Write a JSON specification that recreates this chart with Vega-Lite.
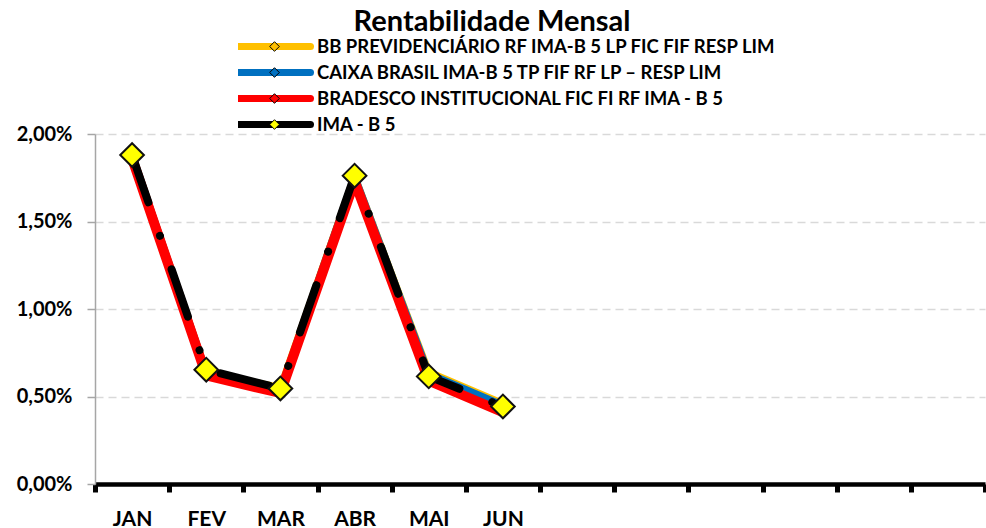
{
  "$schema": "https://vega.github.io/schema/vega-lite/v6.json",
  "width": 890,
  "height": 350,
  "autosize": "none",
  "padding": {"left": 95, "top": 134, "right": 1, "bottom": 44},
  "background": "white",
  "config": {"view": {"stroke": null}, "font": "Lato"},
  "title": {"text": "Rentabilidade Mensal", "font": "Lato", "fontSize": 29, "fontWeight": "bold", "color": "#000000", "anchor": "middle", "dx": -48, "offset": -3},
  "data": {"values": [
    {"mes": "JAN", "serie": "BB PREVIDENCIÁRIO RF IMA-B 5 LP FIC FIF RESP LIM", "codigo": "bb", "valor": 0.0188},
    {"mes": "FEV", "serie": "BB PREVIDENCIÁRIO RF IMA-B 5 LP FIC FIF RESP LIM", "codigo": "bb", "valor": 0.0064},
    {"mes": "MAR", "serie": "BB PREVIDENCIÁRIO RF IMA-B 5 LP FIC FIF RESP LIM", "codigo": "bb", "valor": 0.0055},
    {"mes": "ABR", "serie": "BB PREVIDENCIÁRIO RF IMA-B 5 LP FIC FIF RESP LIM", "codigo": "bb", "valor": 0.0176},
    {"mes": "MAI", "serie": "BB PREVIDENCIÁRIO RF IMA-B 5 LP FIC FIF RESP LIM", "codigo": "bb", "valor": 0.0064},
    {"mes": "JUN", "serie": "BB PREVIDENCIÁRIO RF IMA-B 5 LP FIC FIF RESP LIM", "codigo": "bb", "valor": 0.0046},
    {"mes": "JAN", "serie": "CAIXA BRASIL IMA-B 5 TP FIF RF LP – RESP LIM", "codigo": "caixa", "valor": 0.0188},
    {"mes": "FEV", "serie": "CAIXA BRASIL IMA-B 5 TP FIF RF LP – RESP LIM", "codigo": "caixa", "valor": 0.0064},
    {"mes": "MAR", "serie": "CAIXA BRASIL IMA-B 5 TP FIF RF LP – RESP LIM", "codigo": "caixa", "valor": 0.0054},
    {"mes": "ABR", "serie": "CAIXA BRASIL IMA-B 5 TP FIF RF LP – RESP LIM", "codigo": "caixa", "valor": 0.0176},
    {"mes": "MAI", "serie": "CAIXA BRASIL IMA-B 5 TP FIF RF LP – RESP LIM", "codigo": "caixa", "valor": 0.0063},
    {"mes": "JUN", "serie": "CAIXA BRASIL IMA-B 5 TP FIF RF LP – RESP LIM", "codigo": "caixa", "valor": 0.0045},
    {"mes": "JAN", "serie": "BRADESCO INSTITUCIONAL FIC FI RF IMA - B 5", "codigo": "bradesco", "valor": 0.0186},
    {"mes": "FEV", "serie": "BRADESCO INSTITUCIONAL FIC FI RF IMA - B 5", "codigo": "bradesco", "valor": 0.0062},
    {"mes": "MAR", "serie": "BRADESCO INSTITUCIONAL FIC FI RF IMA - B 5", "codigo": "bradesco", "valor": 0.0052},
    {"mes": "ABR", "serie": "BRADESCO INSTITUCIONAL FIC FI RF IMA - B 5", "codigo": "bradesco", "valor": 0.0173},
    {"mes": "MAI", "serie": "BRADESCO INSTITUCIONAL FIC FI RF IMA - B 5", "codigo": "bradesco", "valor": 0.0059},
    {"mes": "JUN", "serie": "BRADESCO INSTITUCIONAL FIC FI RF IMA - B 5", "codigo": "bradesco", "valor": 0.0041},
    {"mes": "JAN", "serie": "IMA - B 5", "codigo": "ima", "valor": 0.0188},
    {"mes": "FEV", "serie": "IMA - B 5", "codigo": "ima", "valor": 0.00653},
    {"mes": "MAR", "serie": "IMA - B 5", "codigo": "ima", "valor": 0.00546},
    {"mes": "ABR", "serie": "IMA - B 5", "codigo": "ima", "valor": 0.01762},
    {"mes": "MAI", "serie": "IMA - B 5", "codigo": "ima", "valor": 0.00615},
    {"mes": "JUN", "serie": "IMA - B 5", "codigo": "ima", "valor": 0.00443}
  ]},
  "encoding": {
    "x": {
      "field": "mes", "type": "ordinal",
      "scale": {"type": "band", "domain": ["JAN", "FEV", "MAR", "ABR", "MAI", "JUN", "JUL", "AGO", "SET", "OUT", "NOV", "DEZ"], "paddingInner": 0, "paddingOuter": 0},
      "axis": {
        "title": null, "grid": false, "labelAngle": 0, "tickBand": "extent",
        "labelExpr": "indexof(['JAN','FEV','MAR','ABR','MAI','JUN'], datum.value) >= 0 ? datum.value : ''",
        "domainColor": "#000000", "domainWidth": 4.5,
        "tickColor": "#000000", "tickWidth": 5, "tickSize": 8,
        "labelFont": "Lato", "labelFontSize": 21, "labelFontWeight": "bold", "labelColor": "#000000", "labelPadding": 16
      }
    },
    "y": {
      "field": "valor", "type": "quantitative",
      "scale": {"domain": [0, 0.02], "nice": false, "zero": true},
      "axis": {
        "title": null, "values": [0, 0.005, 0.01, 0.015, 0.02],
        "labelExpr": "replace(format(datum.value, '.2%'), '.', ',')",
        "grid": true, "gridColor": "#D9D9D9", "gridDash": [8, 5], "gridWidth": 1.5,
        "domainColor": "#A6A6A6", "domainWidth": 1.5,
        "tickColor": "#A6A6A6", "tickWidth": 1.5, "tickSize": 8,
        "labelFont": "Lato", "labelFontSize": 20, "labelFontWeight": "bold", "labelColor": "#000000", "labelPadding": 15
      }
    },
    "stroke": {
      "field": "serie", "type": "nominal",
      "scale": {
        "domain": ["BB PREVIDENCIÁRIO RF IMA-B 5 LP FIC FIF RESP LIM", "CAIXA BRASIL IMA-B 5 TP FIF RF LP – RESP LIM", "BRADESCO INSTITUCIONAL FIC FI RF IMA - B 5", "IMA - B 5"],
        "range": ["#FFC000", "#0070C0", "#FF0000", "#000000"]
      },
      "legend": {
        "orient": "none", "legendX": 143, "legendY": -100, "title": null, "padding": 0,
        "symbolType": "M-4,0H4", "symbolSize": 324, "symbolStrokeWidth": 7, "symbolOffset": 24,
        "labelFont": "Lato", "labelFontSize": 18.5, "labelFontWeight": "bold", "labelColor": "#000000",
        "labelLimit": 0, "labelOffset": 30, "rowPadding": 1, "clipHeight": 25,
        "encode": {"symbols": {"update": {"strokeCap": {"value": "round"}, "strokeWidth": {"value": 7}}}}
      }
    }
  },
  "layer": [
    {
      "transform": [{"filter": "datum.codigo == 'bb' || datum.codigo == 'caixa'"}],
      "mark": {"type": "line", "strokeWidth": 7, "strokeJoin": "round", "strokeCap": "round"}
    },
    {
      "transform": [{"filter": "datum.codigo == 'bradesco'"}],
      "mark": {"type": "line", "strokeWidth": 10, "strokeJoin": "round", "strokeCap": "butt"}
    },
    {
      "transform": [{"filter": "datum.codigo == 'ima'"}],
      "mark": {"type": "line", "strokeWidth": 8, "strokeJoin": "round", "strokeCap": "round", "strokeDash": [50, 35.5, 0.01, 35.5]}
    },
    {
      "transform": [{"filter": "datum.codigo == 'ima'"}],
      "mark": {"type": "point", "shape": "diamond", "filled": true, "size": 560, "opacity": 1, "strokeWidth": 2},
      "encoding": {
        "stroke": {"value": "#111111"},
        "fill": {
          "field": "codigo", "type": "nominal",
          "scale": {"domain": ["bb", "caixa", "bradesco", "ima"], "range": ["#FFC000", "#0070C0", "#FF0000", "#FFFF00"]},
          "legend": {
            "orient": "none", "legendX": 143, "legendY": -100, "title": null, "padding": 0,
            "symbolType": "M0,-0.4L0.4,0L0,0.4L-0.4,0Z", "symbolSize": 576, "symbolStrokeWidth": 1, "symbolStrokeColor": "#000000", "symbolOpacity": 1, "symbolOffset": 24,
            "labelExpr": "''", "labelFontSize": 18.5, "labelOffset": 60, "rowPadding": 1, "clipHeight": 25
          }
        }
      }
    }
  ]
}
